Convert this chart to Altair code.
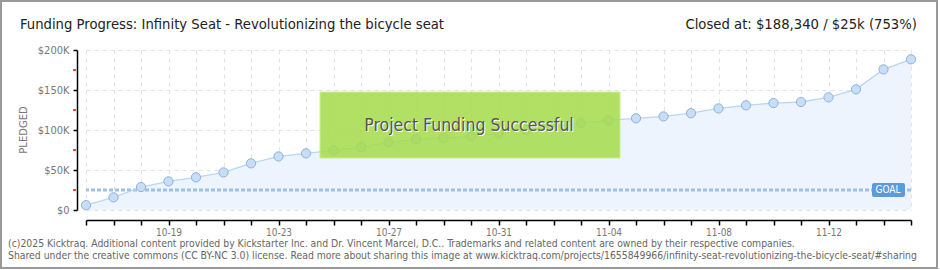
import altair as alt
import pandas as pd

dates = ["10-16", "10-17", "10-18", "10-19", "10-20", "10-21", "10-22", "10-23",
         "10-24", "10-25", "10-26", "10-27", "10-28", "10-29", "10-30", "10-31",
         "11-01", "11-02", "11-03", "11-04", "11-05", "11-06", "11-07", "11-08",
         "11-09", "11-10", "11-11", "11-12", "11-13", "11-14", "11-15"]
pledged = [6000, 15800, 28700, 35800, 40800, 47000, 58300, 67000,
           70800, 74600, 78700, 84600, 88700, 90000, 92100, 95800,
           100000, 104000, 108700, 112000, 114600, 117000, 121000, 127000,
           130800, 133700, 135000, 140800, 150800, 175800, 188340]
goal = 25000
y_ticks = [0, 50000, 100000, 150000, 200000]
y_minor = [25000, 75000, 125000, 175000]
label_every = 4

df = pd.DataFrame({"i": list(range(len(dates))), "date": dates, "pledged": pledged})

W, H = 825, 160
PL, PT = 86, 50
FONT = "DejaVu Sans Condensed"
GREY = "#666666"

label_arr = "[" + ",".join("'%s'" % d for d in dates) + "]"
x_scale = alt.Scale(domain=[0, len(dates) - 1], nice=False, zero=False)
y_scale = alt.Scale(domain=[0, 200000], nice=False)

base = alt.Chart(df)

x_enc = alt.X("i:Q", scale=x_scale, axis=alt.Axis(
    values=list(range(len(dates))), grid=True, gridDash=[4, 4], gridColor="#e2e2e2",
    offset=10, domainColor="#000", domainWidth=1.5, tickColor="#000", tickSize=5, tickWidth=1.5,
    labelExpr="datum.value %% %d == 3 ? %s[datum.value] : ''" % (label_every, label_arr),
    labelOverlap=False, labelFlush=False,
    labelFont=FONT, labelFontSize=10, labelColor="#777", labelPadding=2, title=None))
y_enc = alt.Y("pledged:Q", scale=y_scale, axis=alt.Axis(
    values=y_ticks, grid=True, gridDash=[4, 4], gridColor="#e2e2e2",
    offset=9, domainColor="#000", domainWidth=1.5, tickColor="#000", tickSize=4, tickWidth=1.5,
    labelExpr="datum.value == 0 ? '$0' : '$' + (datum.value/1000) + 'K'",
    labelOverlap=False, labelFlush=False,
    labelFont=FONT, labelFontSize=11, labelColor="#777", labelPadding=4, title=None))

xn = alt.X("i:Q", scale=x_scale, axis=None)
yn = alt.Y("pledged:Q", scale=y_scale, axis=None)

area = base.mark_area(color="#EDF4FD").encode(x=x_enc, y=y_enc)
line = base.mark_line(color="#B9D6F3", strokeWidth=1.3).encode(x=xn, y=yn)
pts = base.mark_point(filled=True, size=85, fill="#C6DEF7", stroke="#8FB1D8",
                      strokeWidth=1, opacity=1).encode(x=xn, y=yn)

goal_df = pd.DataFrame({"g": [goal]})
goal_rule = alt.Chart(goal_df).mark_rule(color="#9CC0E8", strokeWidth=3, strokeDash=[4, 2]).encode(
    y=alt.Y("g:Q", scale=y_scale, axis=None))

minor_df = pd.DataFrame({"m": y_minor})
minor = alt.Chart(minor_df).mark_rule(color="#ff0000", strokeWidth=1.5).encode(
    y=alt.Y("m:Q", scale=y_scale, axis=None), x=alt.value(-13), x2=alt.value(-10))

one = pd.DataFrame({"a": [0]})
o = alt.Chart(one)

def txt(text, x, y, **kw):
    return o.mark_text(text=text, **kw).encode(x=alt.value(x), y=alt.value(y))

def box(x, x2, y, y2, **kw):
    return o.mark_rect(**kw).encode(x=alt.value(x), x2=alt.value(x2), y=alt.value(y), y2=alt.value(y2))

green = box(320 - PL, 620 - PL, 92 - PT, 158 - PT, color="#A6DC4C", opacity=0.86,
            stroke="#C4EB7E", strokeWidth=1)
succ_shadow = txt("Project Funding Successful", 469 - PL + 1, 126 - PT + 1, font=FONT, fontSize=17.5,
                  color="#ffffff", align="center", baseline="middle")
succ = txt("Project Funding Successful", 469 - PL, 126 - PT, font=FONT, fontSize=17.5,
           color="#555555", align="center", baseline="middle")

goal_box = box(872 - PL, 905 - PL, 183 - PT, 197 - PT, color="#5B9BDD", cornerRadius=2)
goal_txt = txt("GOAL", 888 - PL, 190 - PT, font=FONT, fontSize=10, color="#ffffff",
               align="center", baseline="middle")

title = txt("Funding Progress: Infinity Seat - Revolutionizing the bicycle seat", 20 - PL, 29 - PT,
            font=FONT, fontSize=14.7, color="#222222", align="left", baseline="alphabetic")
closed = txt("Closed at:  $188,340 /  $25k (753%)", 917 - PL, 29 - PT,
             font=FONT, fontSize=14.7, color="#222222", align="right", baseline="alphabetic")
ytitle = txt("PLEDGED", 24 - PL, 130 - PT, font="DejaVu Sans", fontSize=10, color="#777777",
             angle=270, align="center", baseline="middle")
foot1 = txt("(c)2025 Kicktraq. Additional content provided by Kickstarter Inc. and Dr. Vincent Marcel, D.C.. "
            "Trademarks and related content are owned by their respective companies.",
            8 - PL, 244 - PT, font=FONT, fontSize=10.35, color=GREY, align="left", baseline="middle")
foot2 = txt("Shared under the creative commons (CC BY-NC 3.0) license. Read more about sharing this image at "
            "www.kicktraq.com/projects/1655849966/infinity-seat-revolutionizing-the-bicycle-seat/#sharing",
            8 - PL, 256 - PT, font=FONT, fontSize=10.35, color=GREY, align="left", baseline="middle")
border = box(1 - PL, 937 - PL, 1 - PT, 268 - PT, fill=None, fillOpacity=0, stroke="#999999",
             strokeWidth=2)

chart = alt.layer(
    area, goal_rule, line, pts, minor, green, succ_shadow, succ, goal_box, goal_txt,
    title, closed, ytitle, foot1, foot2, border
).resolve_axis(x="independent", y="independent").properties(
    width=W, height=H, autosize="none",
    padding={"left": PL, "top": PT, "right": 940 - PL - W, "bottom": 270 - PT - H},
    background="white"
).configure_view(stroke=None)

chart.save("out.html", embed_options={"renderer": "svg", "actions": False})
